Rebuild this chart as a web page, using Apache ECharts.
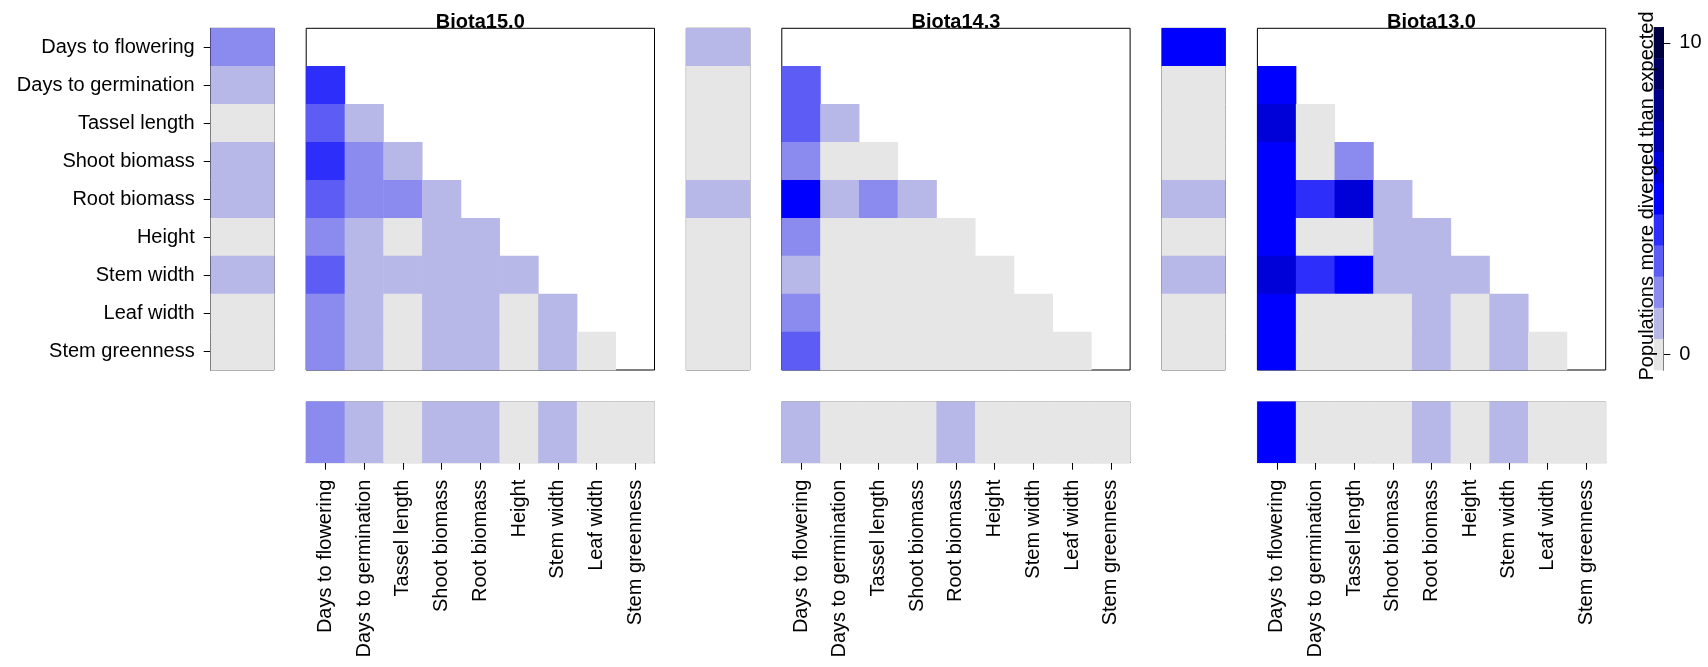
<!DOCTYPE html>
<html>
<head>
<meta charset="utf-8">
<script src="https://cdn.jsdelivr.net/npm/echarts@6/dist/echarts.min.js"></script>
<style>
html,body{margin:0;padding:0;background:#fff;}
#chart{width:1708px;height:667px;}
</style>
</head>
<body>
<div id="chart"></div>
<script>
// ---------- data ----------
const traits = ['Days to flowering','Days to germination','Tassel length','Shoot biomass','Root biomass','Height','Stem width','Leaf width','Stem greenness'];
const panelNames = ['Biota15.0','Biota14.3','Biota13.0'];

// side strip (per trait, top to bottom)
const side150 = [2,1,0,1,1,0,1,0,0];
const side143 = [1,0,0,0,1,0,0,0,0];
const side130 = [5,0,0,0,1,0,1,0,0];

// bottom strip (per trait, left to right)
const bottom150 = [2,1,0,1,1,0,1,0,0];
const bottom143 = [1,0,0,0,1,0,0,0,0];
const bottom130 = [5,0,0,0,1,0,1,0,0];

// lower-triangle pairs: row i lists columns 0..i-1
const pair150 = [[],[4],[3,1],[4,2,1],[3,2,2,1],[2,1,0,1,1],[3,1,1,1,1,1],[2,1,0,1,1,0,1],[2,1,0,1,1,0,1,0]];
const pair143 = [[],[3],[3,1],[2,0,0],[5,1,2,1],[2,0,0,0,0],[1,0,0,0,0,0],[2,0,0,0,0,0,0],[3,0,0,0,0,0,0,0]];
const pair130 = [[],[5],[6,0],[5,0,2],[5,4,6,1],[5,0,0,1,1],[6,4,5,1,1,1],[5,0,0,0,1,0,1],[5,0,0,0,1,0,1,0]];

// colour scale
const legendLevels = ['0','1','2','3','4','5','6','7','8','9','10'];
const legendColors = ['#E6E6E6','#B8B8E8','#8B8BEF','#5D5DF5','#2E2EFA','#0000FF','#0000D9','#0000B3','#00008C','#000066','#000040'];
const legendTitle = 'Populations more diverged than expected';

// ---------- layout ----------
const FONT = 'Liberation Sans, Arial, Helvetica, sans-serif';
const sides = [side150, side143, side130];
const bottoms = [bottom150, bottom143, bottom130];
const pairs = [pair150, pair143, pair130];
const step = 475.6;
const TOP = 28.3, H = 341.7;

const grids = [], xAxes = [], yAxes = [], series = [], titles = [];
const hidden = {show:false};

for (let p = 0; p < 3; p++) {
  const off = p * step;
  const gS = grids.length;
  // side strip
  grids.push({left:210.7+off, top:TOP, width:63.5, height:H, show:true, borderColor:'#444', borderWidth:1, backgroundColor:'transparent'});
  xAxes.push({gridIndex:gS, type:'category', data:[''], show:false});
  yAxes.push({gridIndex:gS, type:'category', data:traits, inverse:true, show:p===0,
    axisLine:{show:true, lineStyle:{color:'#000', width:1}},
    axisTick:{show:true, alignWithLabel:true, length:7, lineStyle:{color:'#000'}},
    axisLabel:{show:true, fontSize:20, color:'#000', fontFamily:FONT, margin:16},
    splitLine:hidden});
  series.push({type:'heatmap', xAxisIndex:gS, yAxisIndex:gS,
    data:sides[p].map((v,i)=>[0,i,v]), itemStyle:{borderWidth:0}, emphasis:{disabled:true}, silent:true});

  // main triangle
  const gM = grids.length;
  grids.push({left:306.2+off, top:TOP, width:348.3, height:H, show:true, borderColor:'#000', borderWidth:1, backgroundColor:'transparent'});
  xAxes.push({gridIndex:gM, type:'category', data:traits, show:false});
  yAxes.push({gridIndex:gM, type:'category', data:traits, inverse:true, show:false});
  const md = [];
  pairs[p].forEach((row,i)=>row.forEach((v,j)=>md.push([j,i,v])));
  series.push({type:'heatmap', xAxisIndex:gM, yAxisIndex:gM, data:md, itemStyle:{borderWidth:0}, emphasis:{disabled:true}, silent:true});

  // bottom strip
  const gB = grids.length;
  grids.push({left:306.2+off, top:401.7, width:348.3, height:61, show:true, borderColor:'#999', borderWidth:1, backgroundColor:'transparent'});
  xAxes.push({gridIndex:gB, type:'category', data:traits, position:'bottom',
    axisLine:{show:true, lineStyle:{color:'#000', width:1}},
    axisTick:{show:true, alignWithLabel:true, length:7, lineStyle:{color:'#000'}},
    axisLabel:{show:true, rotate:90, fontSize:20, color:'#000', fontFamily:FONT, margin:17, interval:0},
    splitLine:hidden});
  yAxes.push({gridIndex:gB, type:'category', data:[''], show:false});
  series.push({type:'heatmap', xAxisIndex:gB, yAxisIndex:gB,
    data:bottoms[p].map((v,i)=>[i,0,v]), itemStyle:{borderWidth:0}, emphasis:{disabled:true}, silent:true});

  titles.push({text:panelNames[p], left:480.3+off, top:12.5, textAlign:'center', padding:0, z:0,
    textStyle:{fontSize:20, fontWeight:'bold', color:'#000', fontFamily:FONT}});
}

// colour bar
const gL = grids.length;
grids.push({left:1654, top:27.3, width:9.3, height:342.7, show:false});
xAxes.push({gridIndex:gL, type:'category', data:[''], show:false});
yAxes.push({gridIndex:gL, type:'category', data:legendLevels, position:'right',
  axisLine:{show:true, lineStyle:{color:'#000', width:1}},
  axisTick:{show:true, alignWithLabel:true, length:7, lineStyle:{color:'#000'},
    interval:(i)=> i===0 || i===legendLevels.length-1},
  axisLabel:{show:true, fontSize:20, color:'#000', fontFamily:FONT, margin:16,
    interval:(i)=> i===0 || i===legendLevels.length-1},
  splitLine:hidden});
series.push({type:'heatmap', xAxisIndex:gL, yAxisIndex:gL,
  data:legendLevels.map((v,i)=>[0,i,+v]), itemStyle:{borderWidth:0}, emphasis:{disabled:true}, silent:true});

const chart = echarts.init(document.getElementById('chart'), null, {renderer:'canvas'});
chart.setOption({
  animation:false,
  backgroundColor:'#fff',
  title:titles,
  grid:grids,
  xAxis:xAxes,
  yAxis:yAxes,
  visualMap:{type:'piecewise', show:false, dimension:2, seriesIndex:series.map((s,i)=>i),
    pieces:legendLevels.map((v,i)=>({value:+v, color:legendColors[i]}))},
  graphic:[{type:'text', x:1647.5, y:196, rotation:Math.PI/2, z:100,
    style:{text:legendTitle, fontSize:20, fontFamily:FONT, fill:'#000', align:'center', verticalAlign:'middle'}}],
  series:series
});
</script>
</body>
</html>
